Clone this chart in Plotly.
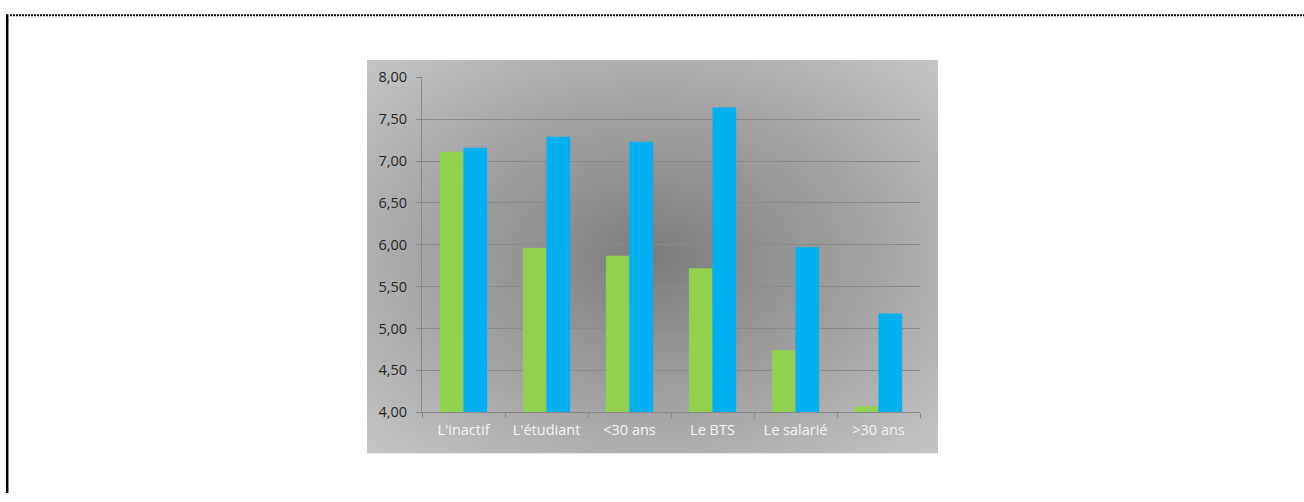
import base64
import plotly.graph_objects as go

categories = ["L'inactif", "L'étudiant", "<30 ans", "Le BTS", "Le salarié", ">30 ans"]
serie_verte = [7.11, 5.96, 5.87, 5.72, 4.74, 4.07]
serie_bleue = [7.16, 7.29, 7.23, 7.64, 5.97, 5.18]
y_ticks = [4.0, 4.5, 5.0, 5.5, 6.0, 6.5, 7.0, 7.5, 8.0]

W, H = 1304, 502

svg = (
    '<svg xmlns="http://www.w3.org/2000/svg" width="571" height="409" preserveAspectRatio="none">'
    '<defs><radialGradient id="g" cx="50%" cy="50%" r="72%" fx="50%" fy="50%">'
    '<stop offset="0%" stop-color="#7c7c7c"/>'
    '<stop offset="100%" stop-color="#c6c6c6"/>'
    '</radialGradient></defs>'
    '<rect width="571" height="409" fill="url(#g)"/></svg>'
)
src = "data:image/svg+xml;base64," + base64.b64encode(svg.encode()).decode()

fig = go.Figure()
fig.add_trace(go.Bar(x=categories, y=serie_verte, marker=dict(color="#92d050", line=dict(width=0)), name="Série 1"))
fig.add_trace(go.Bar(x=categories, y=serie_bleue, marker=dict(color="#00b0f0", line=dict(width=0)), name="Série 2"))

def px(x):
    return x / W

def py(y):
    return 1 - y / H

fig.update_layout(
    width=W, height=H,
    margin=dict(l=0, r=0, t=0, b=0),
    paper_bgcolor="white",
    plot_bgcolor="rgba(0,0,0,0)",
    showlegend=False,
    barmode="group",
    bargap=0.43,
    bargroupgap=0,
    separators=", ",
    font=dict(family="Open Sans, Noto Sans, sans-serif", size=14.5, color="#262626"),
    xaxis=dict(
        domain=[px(422), px(920)],
        showgrid=False,
        showline=True, linecolor="#888888", linewidth=1,
        ticks="outside", ticklen=5, tickcolor="#888888", tickson="boundaries",
        tickfont=dict(color="#f4f4f4", size=14.5),
        ticklabelstandoff=4,
        fixedrange=True,
    ),
    yaxis=dict(
        domain=[py(418), py(70)],
        range=[4, 8],
        tickvals=y_ticks,
        tickformat=".2f",
        showgrid=True, gridcolor="#8a8a8a", gridwidth=1,
        showline=True, linecolor="#888888", linewidth=1,
        ticks="outside", ticklen=5, tickcolor="#888888",
        tickfont=dict(color="#262626", size=14.5),
        ticklabelstandoff=6,
        zeroline=False,
        fixedrange=True,
    ),
    images=[dict(
        source=src, xref="paper", yref="paper",
        x=px(367), y=py(52), sizex=px(938) - px(367), sizey=py(52) - py(461),
        xanchor="left", yanchor="top", sizing="stretch", layer="below",
    )],
    shapes=[
        dict(type="line", xref="paper", yref="paper", x0=px(7.2), x1=px(7.2), y0=py(4.5), y1=0,
             line=dict(color="black", width=2.5)),
        dict(type="line", xref="paper", yref="paper", x0=px(10), x1=1, y0=py(5.5), y1=py(5.5),
             line=dict(color="black", width=2, dash="2px,1px")),
    ],
)

post = (
    "var d=document.getElementById('{plot_id}');"
    "d.style.position='absolute';d.style.left='0px';d.style.top='0px';"
    "var h=document.documentElement;h.style.margin='0';h.style.padding='0';"
    "h.style.overflow='hidden';h.style.height='502px';"
    "document.body.style.margin='0';document.body.style.padding='0';"
    "document.body.style.overflow='hidden';document.body.style.height='502px';"
)

fig.write_html(
    "out.html",
    config={"displayModeBar": False, "responsive": False},
    post_script=post,
)
